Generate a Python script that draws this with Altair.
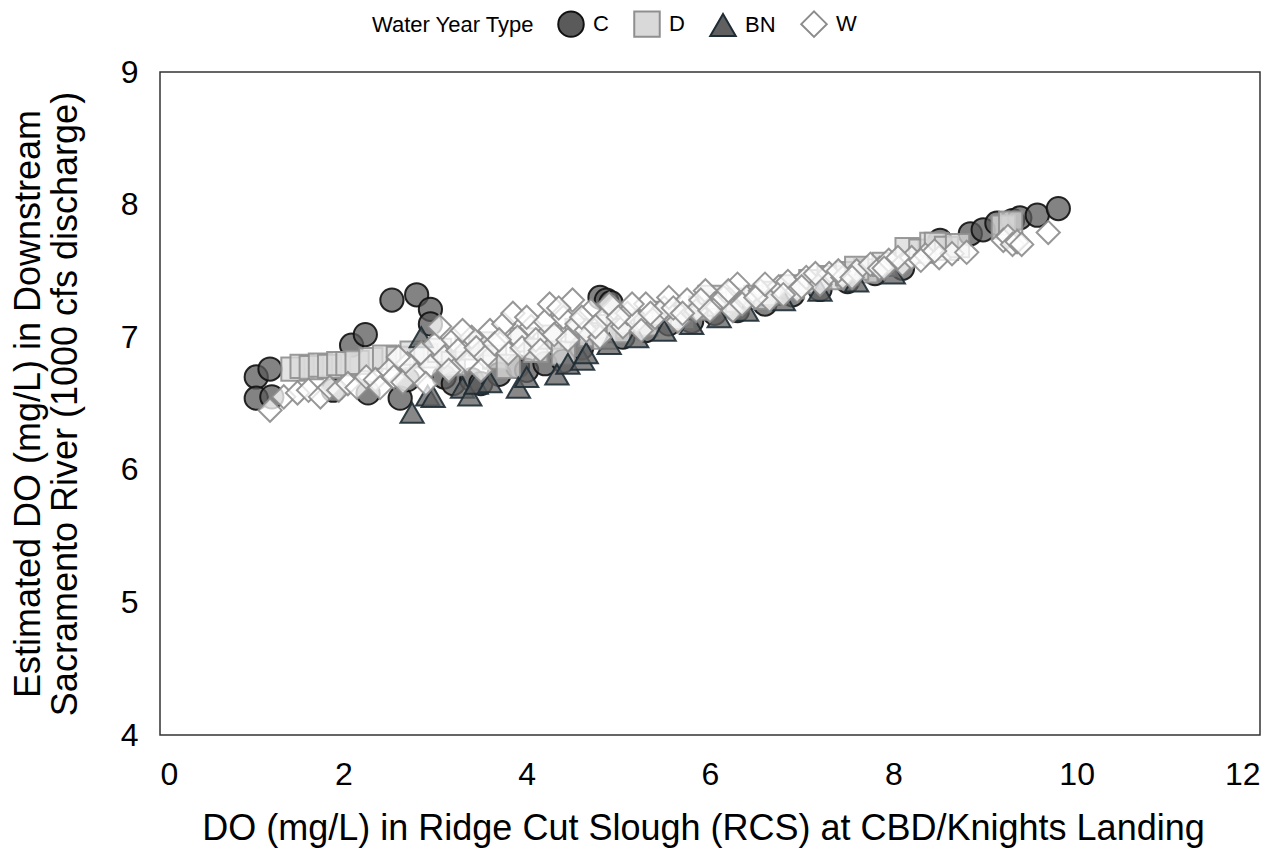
import altair as alt
import pandas as pd

types = ["C", "D", "BN", "W"]

c_x = [1.05, 1.05, 1.20, 1.22, 1.89, 2.09, 2.24, 2.27, 2.53, 2.62, 2.80, 2.95, 2.95, 2.70,
       3.10, 3.20, 3.40, 3.50, 3.70, 3.90, 4.00, 4.20, 4.40, 4.60, 4.80, 4.87, 4.92, 5.05,
       5.30, 5.55, 5.80, 6.05, 6.30, 6.60, 6.90, 7.20, 7.50, 7.80, 8.10, 8.51, 8.84, 8.98,
       9.13, 9.30, 9.38, 9.57, 9.80]
c_y = [6.70, 6.54, 6.76, 6.55, 6.60, 6.94, 7.02, 6.58, 7.28, 6.54, 7.32, 7.21, 7.10, 6.68,
       6.70, 6.65, 6.68, 6.65, 6.72, 6.78, 6.75, 6.80, 6.82, 6.92, 7.30, 7.28, 7.26, 7.00,
       7.05, 7.10, 7.12, 7.18, 7.20, 7.25, 7.32, 7.36, 7.42, 7.48, 7.52, 7.73, 7.78, 7.81,
       7.86, 7.88, 7.90, 7.92, 7.97]

d_x = [1.45, 1.55, 1.65, 1.75, 1.85, 1.95, 2.05, 2.15, 2.30, 2.45, 2.60, 2.75, 2.90, 3.05,
       3.20, 3.35, 3.50, 3.65, 3.80, 3.95, 4.10, 4.25, 4.40, 4.55, 4.70, 4.90, 5.10, 5.30,
       5.50, 5.70, 5.90, 6.10, 6.30, 6.50, 6.70, 6.90, 7.10, 7.30, 7.50, 7.70, 7.90, 8.15,
       8.30, 8.42, 8.47, 8.58, 8.70, 9.20, 9.28, 4.85, 5.00, 6.00, 7.60]
d_y = [6.76, 6.78, 6.77, 6.79, 6.78, 6.80, 6.80, 6.81, 6.83, 6.85, 6.84, 6.88, 6.86, 6.90,
       6.80, 6.92, 6.95, 6.85, 6.78, 6.98, 6.90, 7.00, 6.88, 7.05, 7.02, 7.08, 7.12, 7.10,
       7.18, 7.15, 7.22, 7.25, 7.28, 7.30, 7.33, 7.38, 7.42, 7.45, 7.48, 7.50, 7.55, 7.66,
       7.65, 7.70, 7.70, 7.67, 7.69, 7.83, 7.86, 7.00, 7.05, 7.30, 7.52]

bn_x = [2.75, 2.92, 2.98, 2.85, 3.30, 3.38, 3.45, 3.60, 3.91, 4.00, 4.33, 4.45, 4.61, 4.65,
        4.90, 5.20, 5.50, 5.80, 6.10, 6.40, 6.80, 7.20, 7.60, 8.00]
bn_y = [6.43, 6.56, 6.55, 7.00, 6.62, 6.56, 6.65, 6.66, 6.62, 6.70, 6.72, 6.80, 6.83, 6.88,
        6.95, 7.00, 7.05, 7.10, 7.15, 7.20, 7.28, 7.35, 7.42, 7.48]

w_x = [1.20, 1.35, 1.50, 1.62, 1.75, 1.85, 1.95, 2.05, 2.15, 2.25, 2.35, 2.40, 2.50, 2.55,
       2.65, 2.70, 2.80, 2.85, 2.95, 3.00, 3.05, 3.10, 3.15, 3.20, 3.25, 3.35, 3.40, 3.45,
       3.55, 3.60, 3.65, 3.75, 3.80, 3.85, 3.90, 3.95, 4.05, 4.10, 4.20, 4.25, 4.30, 4.40,
       4.45, 4.50, 4.55, 4.65, 4.70, 4.80, 4.85, 4.95, 5.05, 5.10, 5.20, 5.30, 5.40, 5.50,
       5.55, 5.65, 5.75, 5.85, 5.95, 6.05, 6.15, 6.25, 6.30, 6.40, 6.55, 6.65, 6.75, 6.85,
       6.95, 7.05, 7.20, 7.30, 7.45, 7.60, 7.75, 7.85, 7.95, 8.10, 8.20, 8.35, 8.50, 8.64,
       9.20, 9.25, 9.30, 9.35, 9.40, 9.69,
       2.60, 2.90, 3.30, 3.50, 3.70, 4.00, 4.15, 4.35, 4.60, 4.75, 4.90, 5.00, 5.15, 5.25,
       5.35, 5.60, 5.70, 5.90, 6.00, 6.20, 6.35, 6.50, 6.60, 6.80, 7.00, 7.15, 7.40, 7.55,
       7.90, 8.05, 8.30, 8.45, 8.80]
w_y = [6.45, 6.55, 6.58, 6.60, 6.55, 6.62, 6.60, 6.65, 6.62, 6.70, 6.68, 6.62, 6.75, 6.70,
       6.66, 6.80, 6.72, 6.88, 6.78, 6.95, 7.08, 6.85, 6.75, 6.98, 6.90, 6.82, 7.00, 6.92,
       6.85, 7.05, 6.95, 7.10, 6.88, 7.18, 7.00, 6.92, 7.08, 6.98, 7.12, 7.25, 7.02, 7.15,
       6.98, 7.28, 7.10, 7.05, 7.20, 7.00, 7.15, 7.22, 7.08, 7.18, 7.12, 7.25, 7.15, 7.22,
       7.30, 7.12, 7.28, 7.20, 7.35, 7.25, 7.30, 7.20, 7.40, 7.30, 7.35, 7.28, 7.38, 7.42,
       7.35, 7.45, 7.40, 7.48, 7.45, 7.50, 7.55, 7.52, 7.58, 7.55, 7.60, 7.62, 7.60, 7.63,
       7.73, 7.76, 7.70, 7.72, 7.70, 7.79,
       6.85, 6.65, 7.05, 6.75, 6.98, 7.15, 6.90, 7.22, 7.15, 7.08, 7.25, 7.15, 7.25, 7.05,
       7.18, 7.22, 7.18, 7.28, 7.20, 7.35, 7.25, 7.30, 7.40, 7.32, 7.38, 7.48, 7.50, 7.45,
       7.52, 7.60, 7.58, 7.65, 7.64]

rows = []
for t, xs, ys in [("C", c_x, c_y), ("D", d_x, d_y), ("BN", bn_x, bn_y), ("W", w_x, w_y)]:
    for x, y in zip(xs, ys):
        rows.append({"rcs": x, "est": y, "type": t})
df = pd.DataFrame(rows)

FONT = "Liberation Sans"

legend = alt.Legend(
    title="Water Year Type", orient="none", legendX=212, legendY=-62,
    direction="horizontal", titleOrient="left", titleFontSize=22,
    titleFontWeight="normal", titleColor="black", titleFont=FONT,
    labelFontSize=22, labelColor="black", labelFont=FONT, symbolSize=650,
    symbolStrokeWidth=2, columnPadding=21, labelOffset=8, titlePadding=22,
)

shape_scale = alt.Scale(domain=types, range=["circle", "square", "triangle-up", "diamond"])
fill_scale = alt.Scale(domain=types, range=["#5a5a5a", "#d9d9d9", "#606060", "#ffffff"])
stroke_scale = alt.Scale(domain=types, range=["#111111", "#8f8f8f", "#1e2c35", "#8c8c8c"])

chart = alt.Chart(df).mark_point(
    filled=True, size=540, strokeWidth=2, fillOpacity=0.75, strokeOpacity=0.9
).encode(
    x=alt.X("rcs:Q", scale=alt.Scale(domain=[0, 12], nice=False),
            axis=alt.Axis(values=[0, 2, 4, 6, 8, 10, 12], grid=False, ticks=False, domain=False,
                          labelFontSize=32, labelPadding=24, labelColor="black", labelFont=FONT,
                          title="DO (mg/L) in Ridge Cut Slough (RCS) at CBD/Knights Landing",
                          titleFontSize=36, titleFontWeight="normal", titleColor="black",
                          titleFont=FONT, titlePadding=21, titleX=543)),
    y=alt.Y("est:Q", scale=alt.Scale(domain=[4, 9], nice=False),
            axis=alt.Axis(values=[4, 5, 6, 7, 8, 9], grid=False, ticks=False, domain=False,
                          labelFontSize=32, labelPadding=22, labelColor="black", labelFont=FONT,
                          title=["Estimated DO (mg/L) in Downstream",
                                 "Sacramento River (1000 cfs discharge)"],
                          titleFontSize=36, titleFontWeight="normal", titleColor="black",
                          titleFont=FONT, titlePadding=36, titleLineHeight=37)),
    shape=alt.Shape("type:N", scale=shape_scale, legend=legend),
    fill=alt.Fill("type:N", scale=fill_scale, legend=legend),
    stroke=alt.Stroke("type:N", scale=stroke_scale, legend=legend),
).properties(
    width=1100, height=663,
    autosize=alt.AutoSizeParams(type="none"),
    padding={"left": 152, "top": 64, "right": 12, "bottom": 113},
).configure_view(stroke="#333333", strokeWidth=1.5)

chart.save("out.html", embed_options={"renderer": "svg", "actions": False})
